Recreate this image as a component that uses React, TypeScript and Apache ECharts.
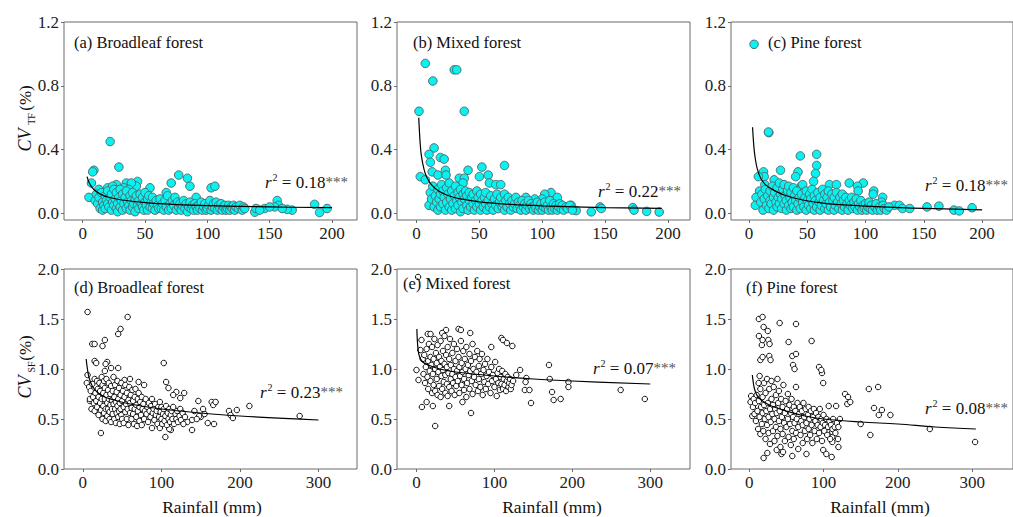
import React, { useEffect, useRef } from 'react';
import * as echarts from 'echarts';

const FONT = 'Liberation Serif';

// ---------- Data (Rainfall mm, CV %) ----------
const broadleafTF: number[][] = [
  [22,0.45],[29,0.29],[9,0.27],[8,0.26],[7,0.19],[5,0.10],[77,0.24],[84,0.22],[86,0.17],[71,0.19],[44,0.20],[43,0.17],[35,0.19],[39,0.19],[27,0.18],[103,0.16],[106,0.17],[54,0.16],[67,0.13],[91,0.10],[186,0.056],[190,0.005],[196,0.03],[156,0.08],[157,0.05],[154,0.04],[168,0.02],[164,0.025],[138,0.007],[139,0.03],[146,0.03],[150,0.04],[160,0.03],[142,0.02],
  [13,0.15],[20,0.16],[24,0.17],[33,0.16],[37,0.15],
  [10,0.08],[11,0.12],[12,0.06],[13,0.1],[14,0.03],[15,0.13],[16,0.07],[16,0.02],[17,0.05],[18,0.11],[18,0.03],[19,0.08],[20,0.06],[20,0.14],[21,0.04],[22,0.1],[23,0.02],[23,0.12],[24,0.07],[25,0.05],[25,0.15],[26,0.09],[27,0.03],[27,0.13],[28,0.06],[28,0.01],[29,0.1],[30,0.04],[30,0.15],[31,0.08],[32,0.02],[32,0.12],[33,0.06],[34,0.1],[35,0.03],[35,0.14],[36,0.07],[37,0.05],[38,0.11],[38,0.02],[39,0.08],[40,0.04],[40,0.13],[41,0.06],[42,0.09],[42,0.01],[43,0.11],[44,0.05],[45,0.08],[45,0.03],[46,0.12],[47,0.06],[48,0.04],[48,0.1],[49,0.02],[50,0.07],[50,0.13],[51,0.05],[52,0.09],[52,0.02],[53,0.11],[54,0.04],[55,0.07],[56,0.03],[56,0.1],[57,0.06],[58,0.02],[59,0.08],[60,0.05],[61,0.03],[62,0.09],[63,0.03],[64,0.06],[65,0.02],[66,0.08],[67,0.04],[68,0.11],[69,0.02],[70,0.06],[71,0.03],[72,0.08],[73,0.05],[74,0.1],[75,0.02],[76,0.07],[77,0.04],[78,0.06],[79,0.02],[80,0.05],[81,0.08],[82,0.03],[83,0.06],[84,0.01],[85,0.04],[86,0.07],[87,0.03],[88,0.05],[89,0.02],[90,0.06],[91,0.04],[92,0.02],[93,0.05],[94,0.03],[95,0.07],[96,0.02],[97,0.04],[98,0.06],[99,0.02],[100,0.03],[101,0.05],[102,0.08],[103,0.02],[104,0.04],[105,0.06],[106,0.03],[107,0.07],[108,0.02],[109,0.05],[110,0.03],[111,0.06],[112,0.02],[113,0.04],[114,0.05],[115,0.02],[116,0.03],[117,0.05],[118,0.02],[119,0.04],[120,0.03],[121,0.05],[122,0.02],[123,0.04],[125,0.03],[126,0.05],[128,0.02],[129,0.04],[130,0.03]
];

const mixedTF: number[][] = [
  [7,0.94],[13,0.83],[30,0.9],[32,0.9],[38,0.64],[2,0.64],[14,0.41],[10,0.37],[11,0.32],[12.5,0.26],[19,0.35],[22,0.34],[3,0.23],[7,0.21],[17,0.24],[23,0.27],[23.5,0.24],[34,0.22],[38,0.22],[37,0.19],[41,0.27],[52,0.29],[50,0.23],[57,0.24],[58,0.19],[70,0.3],[63,0.18],[67,0.18],[107,0.13],[102,0.12],[112,0.1],[100,0.09],[94,0.09],[87,0.1],[127,0.017],[139,0.009],[146,0.04],[147,0.03],[172,0.036],[173,0.02],[183,0.012],[193,0.008],[123,0.05],[118,0.04],
  [10,0.05],[11,0.13],[12,0.09],[13,0.17],[14,0.04],[15,0.11],[16,0.07],[17,0.15],[17,0.02],[18,0.09],[19,0.12],[19,0.04],[20,0.18],[21,0.06],[21,0.14],[22,0.1],[23,0.02],[24,0.16],[24,0.07],[25,0.12],[26,0.04],[26,0.19],[27,0.09],[28,0.14],[28,0.02],[29,0.06],[30,0.11],[31,0.17],[31,0.03],[32,0.08],[33,0.13],[33,0.05],[34,0.1],[35,0.15],[35,0.01],[36,0.07],[37,0.12],[37,0.03],[38,0.09],[39,0.14],[40,0.05],[40,0.11],[41,0.02],[42,0.08],[42,0.13],[43,0.04],[44,0.1],[45,0.06],[45,0.12],[46,0.02],[47,0.08],[48,0.14],[48,0.04],[49,0.1],[50,0.06],[51,0.02],[51,0.12],[52,0.08],[53,0.04],[54,0.1],[55,0.06],[55,0.13],[56,0.02],[57,0.08],[58,0.04],[59,0.11],[60,0.06],[61,0.02],[62,0.09],[63,0.05],[64,0.12],[65,0.03],[66,0.07],[67,0.1],[68,0.04],[69,0.06],[70,0.12],[70,0.02],[71,0.08],[72,0.04],[73,0.1],[74,0.06],[75,0.02],[76,0.08],[77,0.04],[78,0.06],[79,0.1],[80,0.03],[81,0.07],[82,0.05],[83,0.02],[84,0.08],[85,0.04],[86,0.06],[87,0.02],[88,0.05],[89,0.08],[90,0.03],[91,0.06],[92,0.04],[93,0.02],[94,0.05],[95,0.03],[96,0.07],[97,0.02],[98,0.04],[99,0.06],[100,0.02],[101,0.04],[102,0.07],[103,0.03],[104,0.05],[105,0.02],[106,0.08],[107,0.04],[108,0.02],[109,0.06],[110,0.03],[111,0.05],[112,0.02],[113,0.04],[114,0.06],[115,0.03],[116,0.05],[117,0.02],[119,0.04],[120,0.03],[122,0.05],[124,0.02]
];

const pineTF: number[][] = [
  [4.3,1.06],[17,0.506],[16.6,0.51],[44,0.36],[58,0.37],[58,0.3],[57,0.25],[55.4,0.2],[42,0.26],[27,0.27],[40,0.23],[12.4,0.26],[13,0.23],[8,0.23],[9,0.14],[6,0.1],[5.4,0.05],[21.5,0.21],[13.5,0.18],[44.7,0.17],[44,0.15],[69,0.18],[75,0.18],[86,0.19],[98,0.19],[93,0.17],[93.6,0.14],[107,0.14],[106.5,0.12],[114.6,0.1],[113.8,0.07],[124.8,0.05],[129,0.05],[131.7,0.03],[137.9,0.03],[152.7,0.04],[162.9,0.045],[175.8,0.02],[180.4,0.015],[191.4,0.035],
  [10,0.07],[11,0.12],[12,0.02],[13,0.09],[14,0.15],[15,0.05],[16,0.11],[17,0.03],[18,0.14],[18,0.08],[19,0.06],[20,0.17],[21,0.1],[21,0.02],[22,0.13],[23,0.07],[24,0.04],[24,0.16],[25,0.1],[26,0.06],[26,0.19],[27,0.12],[28,0.03],[28,0.09],[29,0.15],[30,0.06],[30,0.18],[31,0.11],[32,0.02],[32,0.08],[33,0.14],[34,0.05],[34,0.17],[35,0.1],[36,0.03],[36,0.13],[37,0.07],[38,0.16],[38,0.04],[39,0.11],[40,0.08],[41,0.02],[41,0.14],[42,0.06],[43,0.1],[44,0.03],[45,0.12],[46,0.07],[46,0.18],[47,0.04],[48,0.1],[49,0.14],[49,0.02],[50,0.08],[51,0.05],[52,0.12],[53,0.03],[53,0.09],[54,0.15],[55,0.06],[56,0.02],[56,0.11],[57,0.08],[58,0.04],[59,0.13],[60,0.07],[61,0.02],[61,0.1],[62,0.05],[63,0.15],[64,0.08],[65,0.03],[65,0.12],[66,0.06],[67,0.1],[68,0.02],[68,0.14],[69,0.07],[70,0.04],[71,0.12],[72,0.08],[73,0.02],[73,0.1],[74,0.05],[75,0.13],[76,0.07],[77,0.03],[78,0.1],[79,0.06],[80,0.02],[80,0.12],[81,0.08],[82,0.04],[83,0.1],[84,0.06],[85,0.02],[86,0.08],[87,0.05],[88,0.1],[89,0.03],[90,0.07],[91,0.04],[92,0.09],[93,0.02],[94,0.06],[95,0.04],[96,0.08],[97,0.02],[98,0.05],[99,0.03],[100,0.06],[101,0.02],[102,0.04],[103,0.07],[104,0.03],[105,0.05],[106,0.02],[108,0.04],[109,0.06],[110,0.02],[112,0.04],[113,0.02],[115,0.05],[116,0.03],[118,0.02],[120,0.04]
];

const broadleafSF: number[][] = [
  [6,1.57],[57,1.52],[45,1.35],[48,1.4],[28,1.29],[25,1.23],[12,1.25],[15,1.25],[16,1.07],[31,1.07],[29,1.05],[36,1.01],[45,1.01],[28,0.98],[6,0.94],[5,0.86],[60,0.9],[53,0.89],[71,0.87],[78,0.84],[23,0.36],[103,1.06],[106,0.87],[109,0.81],[105,0.32],[112,0.39],[110,0.4],[139,0.39],[119,0.77],[115,0.74],[129,0.76],[124,0.71],[147,0.68],[164,0.67],[166,0.64],[169,0.67],[186,0.58],[188,0.54],[191,0.51],[196,0.59],[212,0.63],[276,0.53],[167,0.45],[159,0.46],[139,0.49],[150,0.52],[142,0.58],[148,0.53],[155,0.55],[133,0.47],[153,0.6],[145,0.5],[9,0.68],[15,1.08],[17,1.06],
  [8,0.82],[9,0.7],[10,0.78],[11,0.6],[12,0.85],[13,0.72],[14,0.66],[15,0.9],[15,0.58],[16,0.76],[17,0.68],[18,0.88],[18,0.62],[19,0.8],[20,0.54],[20,0.72],[21,0.86],[22,0.66],[22,0.78],[23,0.59],[24,0.92],[24,0.7],[25,0.84],[25,0.5],[26,0.63],[26,0.76],[27,0.88],[27,0.56],[28,0.7],[28,0.81],[29,0.6],[29,0.48],[30,0.74],[30,0.9],[31,0.66],[31,0.53],[32,0.79],[32,0.6],[33,0.86],[33,0.7],[34,0.57],[34,0.5],[35,0.75],[35,0.64],[36,0.83],[36,0.47],[37,0.69],[37,0.6],[38,0.78],[38,0.55],[39,0.92],[39,0.65],[40,0.72],[40,0.5],
  [41,0.84],[41,0.6],[42,0.67],[42,0.46],[43,0.77],[43,0.56],[44,0.88],[44,0.63],[45,0.7],[45,0.52],[46,0.81],[46,0.58],[47,0.66],[47,0.45],[48,0.74],[48,0.6],[49,0.86],[49,0.54],[50,0.68],[50,0.5],[51,0.78],[52,0.62],[52,0.46],[53,0.72],[54,0.57],[54,0.84],[55,0.65],[56,0.5],[56,0.76],[57,0.6],[58,0.69],[58,0.44],[59,0.82],[60,0.56],[60,0.66],[61,0.74],[62,0.5],[62,0.61],[63,0.79],[64,0.55],[64,0.68],[65,0.45],[66,0.72],[66,0.6],[67,0.8],[68,0.52],[68,0.64],[69,0.43],[70,0.7],[70,0.58],[71,0.76],[72,0.48],[72,0.62],[73,0.67],[74,0.54],[75,0.72],[75,0.44],[76,0.6],[77,0.65],[78,0.5],[79,0.58],[80,0.7],
  [81,0.55],[82,0.62],[83,0.47],[84,0.66],[85,0.58],[86,0.52],[87,0.63],[88,0.41],[88,0.7],[89,0.56],[90,0.6],[91,0.49],[92,0.65],[93,0.54],[94,0.58],[95,0.45],[96,0.62],[97,0.52],[98,0.41],[98,0.67],[99,0.57],[100,0.5],[100,0.62],[101,0.45],[102,0.55],[103,0.6],[104,0.48],[105,0.53],[106,0.63],[107,0.44],[108,0.56],[109,0.5],[110,0.6],[111,0.47],[112,0.54],[113,0.58],[114,0.5],[115,0.62],[116,0.45],[118,0.55],[119,0.5],[120,0.58],[121,0.47],[123,0.53],[124,0.6],[125,0.49],[127,0.56],[128,0.45],[130,0.52]
];

const mixedSF: number[][] = [
  [2,1.92],[0,0.99],[2.6,0.89],[7,0.62],[13,0.67],[21,0.63],[24,0.43],[42,0.63],[70,0.56],[59,0.67],[170,1.04],[171,0.9],[174,0.77],[176,0.69],[185,0.7],[195,0.87],[195,0.82],[262,0.79],[293,0.7],[147,0.66],[139,0.79],[145,0.79],[141,0.91],[140,0.87],[133,0.99],[128,0.94],[109,1.31],[111,1.29],[116,1.26],[123,1.23],[96,1.22],[38,1.39],[54,1.4],[69,1.36],[14.5,1.35],[18,1.35],[6.4,1.29],[33,1.36],[57,1.39],
  [5,1.19],[8,1.1],[9,0.95],[10,1.14],[11,0.86],[12,1.02],[13,1.2],[14,0.92],[15,1.08],[15,0.8],[16,1.25],[17,0.98],[18,1.12],[18,0.88],[19,1.04],[20,0.76],[20,1.22],[21,0.95],[22,1.1],[22,0.84],[23,1.3],[24,1.0],[24,0.78],[25,1.16],[26,0.9],[26,1.06],[27,0.74],[27,1.24],[28,0.97],[29,1.12],[29,0.83],[30,1.02],[31,0.72],[31,1.28],[32,0.93],[32,1.08],[33,0.8],[34,1.18],[34,0.99],[35,0.87],[36,1.33],[36,1.05],[37,0.76],[37,0.94],[38,1.14],[39,0.85],[39,1.02],[40,1.22],[40,0.73],[41,0.96],[42,1.1],[42,0.82],[43,1.3],[44,0.9],[44,1.04],[45,0.78],[46,1.16],[46,0.95],[47,0.86],[48,1.25],[48,1.0],[49,0.74],[50,1.08],[50,0.92],[51,0.83],[52,1.2],[52,0.98],[53,0.88],[54,1.12],[55,0.76],[55,1.02],[56,0.93],[57,1.28],[58,0.84],[58,1.06],[59,0.97],[60,1.18],[61,0.79],[61,0.9],[62,1.1],[63,1.0],[64,0.72],[64,1.22],[65,0.86],[66,1.04],[67,0.94],[68,1.15],[68,0.8],[69,0.98],[70,1.08],[71,0.88],[72,1.25],[72,0.75],[73,1.0],[74,0.92],[75,1.12],[76,0.84],[77,0.97],[78,1.18],[79,0.78],[80,1.03],[80,0.9],[81,1.1],[82,0.82],[83,0.95],[84,1.15],[85,0.74],[86,0.99],[87,0.87],[88,1.05],[89,0.8],[90,0.93],[91,1.1],[92,0.85],[93,0.97],[95,0.76],[96,1.02],[97,0.88],[98,0.94],[100,0.82],[101,1.07],[102,0.9],[103,0.73],[104,0.96],[105,0.86],[106,1.0],[107,0.79],[108,0.92],[109,0.85],[110,0.98],[111,0.8],[112,0.9],[113,0.84],[114,0.95],[115,0.78],[116,0.88],[117,0.92],[118,0.82],[119,0.86],[120,0.9],[121,0.8],[122,0.84],[124,0.88]
];

const pineSF: number[][] = [
  [13,1.5],[18,1.52],[19.4,1.42],[13,1.33],[17,1.24],[18,1.29],[25,1.38],[25.7,1.29],[27.4,1.25],[15,1.09],[18,1.12],[27,1.13],[28.7,1.09],[41,1.46],[63,1.45],[53,1.27],[58,1.13],[63,1.15],[59,1.04],[61,1.0],[84,1.28],[94,1.02],[98,0.96],[97,0.99],[99.6,0.86],[14,0.93],[12.7,0.86],[2.6,0.73],[4.2,0.53],[1.8,0.67],[117,0.63],[107,0.63],[132,0.65],[136,0.67],[129,0.75],[133,0.72],[150,0.45],[161,0.8],[163,0.34],[168,0.61],[173.5,0.82],[174.4,0.54],[178.6,0.59],[190,0.54],[243,0.4],[304,0.27],[19.4,0.11],[24.4,0.16],[37,0.19],[43.4,0.15],[45.5,0.17],[58,0.13],[77,0.15],[99.6,0.19],[103.8,0.15],[111,0.12],[111.8,0.27],[111.8,0.32],[111.8,0.37],[120,0.22],[119.5,0.3],
  [5,0.62],[6,0.7],[7,0.55],[8,0.66],[9,0.48],[10,0.74],[11,0.58],[12,0.4],[13,0.68],[14,0.52],[15,0.8],[15,0.35],[16,0.62],[17,0.45],[18,0.72],[18,0.56],[19,0.38],[20,0.86],[20,0.64],[21,0.5],[22,0.3],[22,0.76],[23,0.58],[24,0.44],[24,0.9],[25,0.66],[26,0.36],[26,0.52],[27,0.8],[28,0.6],[28,0.25],[29,0.47],[30,0.7],[30,0.88],[31,0.55],[32,0.38],[32,0.64],[33,0.82],[34,0.5],[34,0.28],[35,0.6],[36,0.74],[36,0.42],[37,0.56],[38,0.9],[38,0.33],[39,0.66],[40,0.48],[40,0.78],[41,0.58],[42,0.22],[42,0.4],[43,0.7],[44,0.52],[45,0.62],[45,0.35],[46,0.84],[47,0.46],[48,0.56],[48,0.28],[49,0.68],[50,0.42],[51,0.6],[52,0.75],[52,0.5],[53,0.32],[54,0.64],[55,0.45],[56,0.56],[56,0.24],[57,0.7],[58,0.38],[59,0.52],[60,0.62],[60,0.3],[61,0.46],[62,0.58],[63,0.82],[63,0.36],[64,0.5],[65,0.66],[66,0.42],[66,0.2],[67,0.55],[68,0.62],[69,0.34],[70,0.48],[71,0.58],[72,0.26],[72,0.44],[73,0.66],[74,0.52],[75,0.38],[76,0.6],[77,0.46],[78,0.3],[79,0.54],[80,0.62],[80,0.4],[81,0.5],[82,0.34],[83,0.58],[84,0.44],[85,0.26],[86,0.52],[87,0.6],[88,0.38],[89,0.48],[90,0.56],[91,0.3],[92,0.44],[93,0.52],[94,0.36],[95,0.6],[96,0.42],[97,0.5],[98,0.28],[99,0.46],[100,0.54],[101,0.38],[102,0.44],[104,0.5],[105,0.34],[106,0.42],[108,0.48],[109,0.3],[110,0.44],[112,0.4],[113,0.5],[115,0.42],[116,0.36],[118,0.46],[120,0.42],[122,0.5]
];

// Fitted curves
const fitBroadleafTF: number[][] = [[3.5,0.23],[5,0.195],[7,0.167],[10,0.141],[15,0.117],[20,0.102],[30,0.085],[50,0.067],[75,0.055],[100,0.048],[150,0.04],[200,0.035]];
const fitMixedTF: number[][] = [[1.8,0.6],[3,0.43],[4,0.355],[6,0.275],[8,0.229],[12,0.178],[18,0.138],[25,0.112],[35,0.09],[50,0.072],[75,0.056],[100,0.047],[150,0.036],[195,0.031]];
const fitPineTF: number[][] = [[3,0.54],[4,0.43],[5,0.36],[7,0.28],[10,0.22],[14,0.18],[20,0.15],[30,0.115],[45,0.085],[65,0.062],[100,0.045],[140,0.033],[200,0.022]];
const fitBroadleafSF: number[][] = [[4.2,1.1],[6,0.99],[8,0.91],[12,0.83],[18,0.77],[25,0.73],[40,0.69],[60,0.65],[100,0.6],[150,0.56],[200,0.53],[300,0.49]];
const fitMixedSF: number[][] = [[0.5,1.4],[1,1.3],[2,1.2],[4,1.12],[8,1.07],[15,1.04],[30,1.0],[50,0.97],[100,0.93],[150,0.9],[200,0.88],[300,0.85]];
const fitPineSF: number[][] = [[4.2,0.94],[6,0.84],[8,0.78],[12,0.72],[20,0.67],[30,0.63],[50,0.58],[75,0.53],[100,0.5],[150,0.47],[200,0.45],[250,0.42],[305,0.4]];

const panelTitles = ['(a) Broadleaf forest', '(b) Mixed forest', '(c) Pine forest', '(d) Broadleaf forest', '(e) Mixed forest', '(f) Pine forest'];
const r2Values = ['0.18', '0.22', '0.18', '0.23', '0.07', '0.08'];
const topXTicks = [0, 50, 100, 150, 200];
const bottomXTicks = [0, 100, 200, 300];
const topYTicks = [0, 0.4, 0.8, 1.2];
const bottomYTicks = [0, 0.5, 1.0, 1.5, 2.0];

// ---------- Layout ----------
const grids = [
  { left: 64, top: 22, width: 293, height: 198, xMin: -15, xMax: 220 },
  { left: 397, top: 22, width: 293, height: 198, xMin: -15.5, xMax: 217.5 },
  { left: 731, top: 22, width: 300, height: 198, xMin: -15.5, xMax: 226.5 },
  { left: 64, top: 269, width: 293, height: 200, xMin: -24, xMax: 349 },
  { left: 397, top: 269, width: 293, height: 200, xMin: -25, xMax: 351 },
  { left: 731, top: 269, width: 300, height: 200, xMin: -24.5, xMax: 355 },
];
const titlePos = [[74, 42], [413, 42], [768, 42], [74, 287], [403, 283], [746, 287]];
const r2Pos = [[265, 182], [598, 191], [925, 185], [260, 392], [593, 368], [925, 408]];

const scatterData = [broadleafTF, mixedTF, pineTF, broadleafSF, mixedSF, pineSF];
const fitData = [fitBroadleafTF, fitMixedTF, fitPineTF, fitBroadleafSF, fitMixedSF, fitPineSF];

function buildOption() {
  const frame = '#6a6a6a';
  const grid = grids.map((g) => ({
    left: g.left, top: g.top, width: g.width, height: g.height,
    show: true, borderColor: frame, borderWidth: 1, backgroundColor: 'transparent',
  }));
  const xAxis = grids.map((g, i) => {
    const ticks = i < 3 ? topXTicks : bottomXTicks;
    return {
      type: 'value', gridIndex: i, min: g.xMin, max: g.xMax,
      axisLine: { show: false, onZero: false },
      axisTick: { show: true, length: 3, inside: false, lineStyle: { color: frame }, customValues: ticks },
      axisLabel: { show: true, customValues: ticks, fontFamily: FONT, fontSize: 17, color: '#222', margin: 5, formatter: (v: number) => String(Math.round(v)) },
      splitLine: { show: false },
    };
  });
  const yAxis = grids.map((g, i) => {
    const top = i < 3;
    const ticks = top ? topYTicks : bottomYTicks;
    return {
      type: 'value', gridIndex: i, min: top ? -0.042 : 0, max: top ? 1.2 : 2.0,
      axisLine: { show: false, onZero: false },
      axisTick: { show: true, length: 3, lineStyle: { color: frame }, customValues: ticks },
      axisLabel: { show: true, customValues: ticks, fontFamily: FONT, fontSize: 17, color: '#222', margin: 5, formatter: (v: number) => v.toFixed(1) },
      splitLine: { show: false },
    };
  });
  const series: any[] = [];
  scatterData.forEach((d, i) => {
    const top = i < 3;
    series.push({
      type: 'scatter', xAxisIndex: i, yAxisIndex: i, data: d,
      symbol: 'circle', symbolSize: top ? 8.5 : 5.5,
      itemStyle: top
        ? { color: '#08f2f2', borderColor: '#4e6e70', borderWidth: 1, opacity: 1 }
        : { color: '#ffffff', borderColor: '#111', borderWidth: 1, opacity: 1 },
      z: 2,
    });
  });
  fitData.forEach((d, i) => {
    series.push({
      type: 'line', xAxisIndex: i, yAxisIndex: i, data: d, smooth: 0.4,
      symbol: 'none', lineStyle: { color: '#000', width: 1.2 }, z: 3,
    });
  });

  const graphic: any[] = [];
  panelTitles.forEach((t, i) => {
    graphic.push({
      type: 'text', x: titlePos[i][0], y: titlePos[i][1], z: 10,
      style: { text: t, fontFamily: FONT, fontSize: 16.5, fill: '#111', align: 'left', verticalAlign: 'middle' },
    });
  });
  r2Values.forEach((v, i) => {
    graphic.push({
      type: 'text', x: r2Pos[i][0], y: r2Pos[i][1], z: 10,
      style: {
        text: `{r|r}{s|2}{t| = ${v}}{a|***}`,
        fontFamily: FONT, fontSize: 17,
        align: 'left', verticalAlign: 'middle', fill: '#111',
        rich: {
          r: { fontFamily: FONT, fontStyle: 'italic', fontSize: 17, fill: '#111' },
          s: { fontFamily: FONT, fontSize: 10, padding: [0, 0, 10, 1], fill: '#111' },
          t: { fontFamily: FONT, fontSize: 17, fill: '#111' },
          a: { fontFamily: FONT, fontSize: 15, fill: '#555' },
        },
      },
    });
  });
  // x-axis names
  [212, 552, 880].forEach((cx) => {
    graphic.push({
      type: 'text', x: cx, y: 507, z: 10,
      style: { text: 'Rainfall (mm)', fontFamily: FONT, fontSize: 17.5, fill: '#111', align: 'center', verticalAlign: 'middle' },
    });
  });
  // y-axis names (rotated)
  const yNames = [
    { sub: 'TF', cv: 140, subY: 119, pct: 98 },
    { sub: 'SF', cv: 387, subY: 367, pct: 348 },
  ];
  yNames.forEach((n) => {
    graphic.push({ type: 'text', x: 25, y: n.cv, rotation: Math.PI / 2, z: 10,
      style: { text: 'CV', fontFamily: FONT, fontStyle: 'italic', fontSize: 18, fill: '#111', align: 'center', verticalAlign: 'middle' } });
    graphic.push({ type: 'text', x: 31, y: n.subY, rotation: Math.PI / 2, z: 10,
      style: { text: n.sub, fontFamily: FONT, fontSize: 10, fill: '#111', align: 'center', verticalAlign: 'middle' } });
    graphic.push({ type: 'text', x: 25, y: n.pct, rotation: Math.PI / 2, z: 10,
      style: { text: '(%)', fontFamily: FONT, fontSize: 17, fill: '#111', align: 'center', verticalAlign: 'middle' } });
  });

  return {
    animation: false,
    backgroundColor: '#ffffff',
    textStyle: { fontFamily: FONT },
    grid, xAxis, yAxis, series, graphic,
  };
}

export default function App() {
  const ref = useRef<HTMLDivElement>(null);
  useEffect(() => {
    if (!ref.current) return;
    const chart = echarts.init(ref.current, null, { renderer: 'svg' });
    chart.setOption(buildOption() as any);
    return () => chart.dispose();
  }, []);
  return (
    <div
      ref={ref}
      style={{ position: 'fixed', left: 0, top: 0, width: 1013, height: 517, background: '#fff' }}
    />
  );
}
